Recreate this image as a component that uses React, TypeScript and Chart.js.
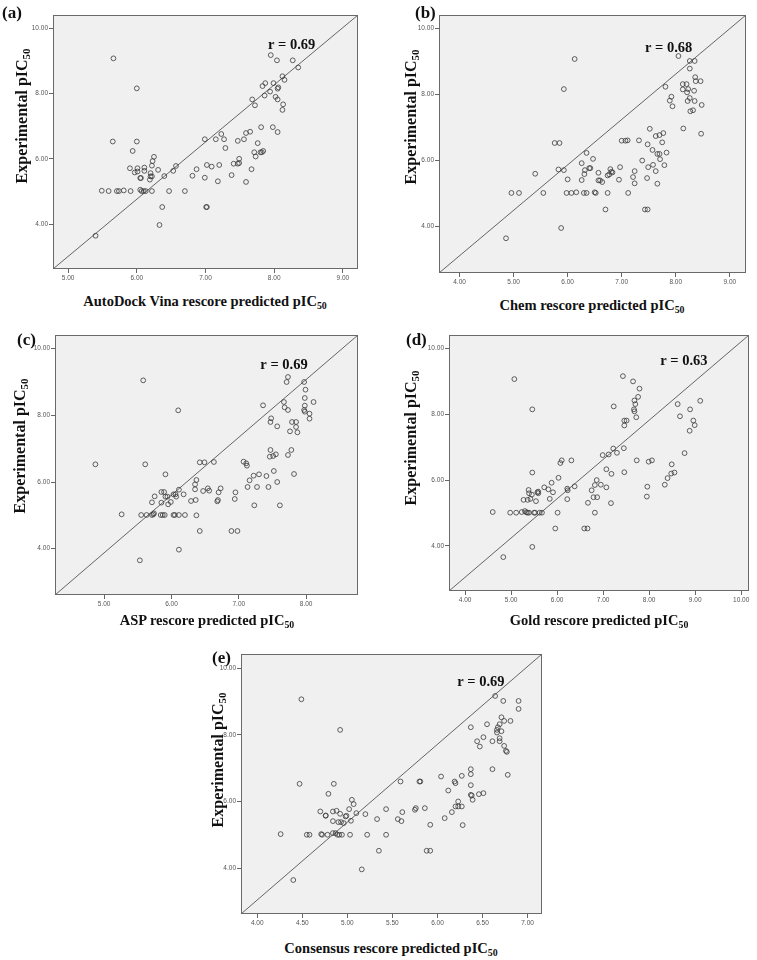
import React, { useEffect, useRef } from "react";
import { Chart, registerables } from "chart.js";
Chart.register(...registerables);

// (a) AutoDock Vina
const vinaPredicted = [
  5.66, 6.0, 5.65, 6.0, 5.94, 5.9, 6.01, 5.97, 6.01, 6.05,
  6.06, 6.11, 6.11, 6.22, 6.23, 6.25, 6.2, 6.2, 6.19, 6.22,
  6.31, 6.4, 6.53, 6.57, 5.49, 5.59, 5.71, 5.74, 5.81, 5.91,
  6.05, 6.07, 6.1, 6.13, 6.22, 6.47, 6.7, 5.4, 6.33, 6.37,
  7.01, 7.02, 6.81, 6.87, 6.99, 7.02, 7.09, 7.18, 7.2, 6.99,
  7.15, 7.23, 7.27, 7.29, 7.38, 7.41, 7.47, 7.49, 7.49, 7.47,
  7.56, 7.59, 7.65, 7.59, 7.67, 7.71, 7.73, 7.76, 7.8, 7.82,
  7.84, 7.81, 7.98, 8.05, 7.68, 7.72, 7.83, 7.87, 7.86, 7.94,
  7.99, 8.02, 8.05, 8.05, 8.06, 8.12, 8.13, 8.12, 8.15, 7.95,
  8.04, 8.27, 8.35,
];
const vinaExperimental = [
  9.08, 8.16, 6.53, 6.53, 6.24, 5.71, 5.71, 5.58, 5.61, 5.41,
  5.41, 5.73, 5.63, 5.79, 5.93, 6.06, 5.56, 5.46, 5.36, 5.46,
  5.66, 5.47, 5.63, 5.78, 5.02, 5.01, 5.01, 5.01, 5.03, 5.01,
  5.05, 5.01, 5.01, 5.01, 5.01, 5.01, 5.01, 3.64, 3.97, 4.52,
  4.52, 4.52, 5.48, 5.68, 5.42, 5.81, 5.76, 5.31, 5.81, 6.6,
  6.6, 6.76, 6.6, 6.33, 5.5, 5.85, 5.85, 6.0, 5.87, 6.55,
  6.6, 6.79, 6.83, 5.29, 5.68, 6.2, 6.07, 6.48, 6.2, 6.2,
  6.24, 6.97, 6.97, 6.82, 7.82, 7.64, 8.23, 8.32, 7.94, 8.06,
  8.32, 7.9, 7.82, 8.15, 8.19, 7.5, 7.67, 8.53, 8.42, 9.18,
  9.02, 9.02, 8.8,
];

// (b) Chem
const chemPredicted = [
  6.13, 5.93, 5.76, 5.85, 6.35, 6.47, 6.26, 5.83, 5.93, 5.4,
  6.0, 6.26, 6.31, 6.32, 6.4, 6.42, 6.57, 6.57, 6.6, 6.64,
  6.74, 6.77, 6.79, 6.81, 6.83, 6.95, 6.97, 4.96, 5.1, 5.55,
  5.98, 6.07, 6.16, 6.3, 6.35, 6.5, 6.52, 6.74, 7.12, 4.86,
  5.88, 6.7, 7.43, 7.48, 7.0, 7.07, 7.11, 7.32, 7.52, 7.63,
  7.7, 7.77, 7.48, 7.57, 7.75, 7.66, 7.7, 7.71, 7.83, 7.38,
  7.58, 7.79, 7.49, 7.63, 7.24, 7.21, 7.47, 7.24, 7.66, 7.81,
  7.92, 7.89, 7.94, 8.05, 8.26, 8.35, 8.26, 8.13, 8.2, 8.13,
  8.23, 8.21, 8.36, 8.37, 8.46, 8.34, 8.26, 8.22, 8.35, 8.27,
  8.32, 8.48, 8.14, 8.47,
];
const chemExperimental = [
  9.07, 8.16, 6.53, 6.53, 6.23, 6.05, 5.92, 5.73, 5.71, 5.6,
  5.43, 5.41, 5.59, 5.71, 5.77, 5.77, 5.63, 5.4, 5.4, 5.35,
  5.55, 5.58, 5.74, 5.66, 5.64, 5.42, 5.8, 5.02, 5.02, 5.02,
  5.02, 5.02, 5.04, 5.02, 5.02, 5.04, 5.02, 5.02, 5.02, 3.65,
  3.96, 4.52, 4.52, 4.52, 6.6, 6.6, 6.61, 6.61, 6.96, 6.74,
  6.77, 6.83, 6.49, 6.32, 6.55, 6.2, 6.2, 6.04, 6.24, 6.0,
  5.87, 5.86, 5.8, 5.68, 5.68, 5.5, 5.47, 5.31, 5.3, 8.23,
  7.93, 7.81, 7.64, 9.16, 9.01, 9.01, 8.78, 8.31, 8.31, 8.15,
  8.16, 8.06, 8.52, 8.4, 8.4, 8.11, 7.89, 7.8, 7.8, 7.49,
  7.52, 7.68, 6.97, 6.81,
];

// (c) ASP
const aspPredicted = [
  5.58, 6.1, 4.87, 5.61, 5.91, 6.42, 6.49, 6.63, 6.37, 6.35,
  6.35, 6.36, 6.29, 6.11, 6.18, 6.06, 6.07, 6.03, 5.85, 5.89,
  5.75, 5.71, 5.85, 5.91, 5.94, 5.95, 5.99, 6.47, 6.54, 6.56,
  6.7, 6.73, 6.69, 6.68, 5.26, 5.55, 5.63, 5.71, 5.73, 5.74,
  5.84, 5.87, 5.9, 6.03, 6.05, 6.11, 6.2, 6.37, 5.53, 6.11,
  6.42, 6.89, 6.98, 6.95, 6.94, 7.07, 7.11, 7.12, 7.16, 7.13,
  7.27, 7.44, 7.57, 7.22, 7.3, 7.41, 7.52, 7.23, 7.61, 7.47,
  7.46, 7.51, 7.55, 7.73, 7.78, 7.82, 7.36, 7.48, 7.47, 7.57,
  7.67, 7.68, 7.73, 7.71, 7.73, 7.76, 7.79, 7.85, 7.85, 7.87,
  7.97, 7.99, 7.98, 7.98, 7.97, 7.98, 8.05, 8.05, 8.11,
];
const aspExperimental = [
  9.05, 8.15, 6.53, 6.53, 6.23, 6.59, 6.59, 6.6, 6.06, 5.93,
  5.78, 5.46, 5.43, 5.77, 5.63, 5.63, 5.56, 5.63, 5.7, 5.7,
  5.57, 5.39, 5.38, 5.56, 5.56, 5.33, 5.4, 5.73, 5.81, 5.74,
  5.69, 5.81, 5.46, 5.42, 5.03, 5.01, 5.01, 5.01, 5.03, 5.06,
  5.01, 5.01, 5.01, 5.01, 5.01, 5.01, 5.01, 5.0, 3.65, 3.97,
  4.53, 4.53, 4.53, 5.69, 5.49, 6.61, 6.56, 6.49, 6.05, 5.85,
  5.85, 5.85, 6.0, 6.19, 6.23, 6.18, 6.33, 5.3, 5.3, 6.96,
  6.76, 6.78, 6.83, 6.81, 6.96, 6.24, 8.3, 7.91, 7.8, 7.67,
  8.4, 8.24, 8.16, 9.0, 9.15, 7.52, 7.8, 7.8, 7.65, 7.49,
  9.0, 8.77, 8.52, 8.29, 8.16, 8.11, 8.05, 7.9, 8.4,
];

// (d) Gold
const goldPredicted = [
  5.07, 5.46, 5.46, 4.6, 4.98, 5.11, 5.23, 5.3, 5.33, 5.36,
  5.39, 5.5, 5.52, 5.62, 5.67, 6.01, 6.82, 5.27, 5.36, 5.42,
  5.38, 5.39, 5.45, 5.54, 5.57, 5.59, 5.59, 5.72, 5.81, 5.88,
  5.91, 5.84, 6.03, 6.07, 6.1, 6.31, 6.22, 6.23, 6.22, 6.38,
  5.96, 6.59, 6.66, 5.46, 4.83, 6.67, 6.75, 6.79, 6.87, 6.82,
  6.86, 6.95, 7.07, 7.07, 7.17, 7.18, 6.99, 7.12, 7.22, 7.3,
  7.23, 7.45, 7.46, 7.73, 7.43, 7.46, 7.51, 7.46, 7.65, 7.79,
  7.76, 7.68, 7.7, 7.67, 7.68, 7.72, 7.99, 8.06, 7.96, 7.95,
  8.34, 8.4, 8.48, 8.55, 8.49, 8.77, 8.62, 8.67, 8.89, 8.88,
  8.96, 8.99, 9.11,
];
const goldExperimental = [
  9.07, 8.15, 6.23, 5.03, 5.01, 5.01, 5.03, 5.06, 5.02, 5.01,
  5.01, 5.01, 5.01, 5.01, 5.01, 5.01, 5.01, 5.4, 5.4, 5.43,
  5.7, 5.6, 5.56, 5.36, 5.63, 5.65, 5.6, 5.78, 5.72, 5.92,
  5.63, 5.43, 6.07, 6.52, 6.6, 6.6, 5.74, 5.69, 5.42, 5.81,
  4.53, 4.53, 4.53, 3.97, 3.66, 5.31, 5.69, 5.48, 5.48, 5.85,
  6.0, 5.86, 6.33, 5.78, 5.3, 6.19, 6.76, 6.78, 6.96, 6.83,
  8.24, 6.97, 6.24, 6.6, 9.16, 7.81, 7.81, 7.66, 9.0, 8.78,
  8.53, 8.42, 8.31, 8.15, 8.09, 7.91, 6.56, 6.6, 5.8, 5.5,
  5.86, 6.06, 6.2, 6.23, 6.48, 6.82, 8.31, 7.94, 8.15, 7.5,
  7.81, 7.67, 8.41,
];

// (e) Consensus
const consensusPredicted = [
  4.49, 4.92, 4.47, 4.85, 4.79, 4.7, 4.76, 4.76, 4.84, 4.88,
  4.92, 4.84, 4.9, 4.93, 4.96, 4.98, 4.99, 5.02, 5.05, 5.07,
  5.04, 5.1, 5.2, 5.33, 5.43, 4.26, 4.55, 4.58, 4.71, 4.72,
  4.78, 4.84, 4.87, 4.89, 4.91, 4.94, 5.03, 5.22, 5.43, 4.4,
  5.16, 5.35, 5.88, 5.92, 5.56, 5.6, 5.61, 5.59, 5.8, 5.81,
  5.75, 5.76, 5.86, 5.92, 6.04, 6.08, 6.12, 6.16, 6.19, 6.2,
  6.2, 6.23, 6.23, 6.27, 6.27, 6.28, 6.37, 6.37, 6.37, 6.37,
  6.38, 6.39, 6.46, 6.51, 6.37, 6.44, 6.47, 6.51, 6.55, 6.61,
  6.61, 6.64, 6.66, 6.66, 6.69, 6.67, 6.69, 6.69, 6.71, 6.71,
  6.73, 6.74, 6.74, 6.76, 6.77, 6.78, 6.81, 6.9, 6.9,
];
const consensusExperimental = [
  9.07, 8.15, 6.53, 6.53, 6.23, 5.7, 5.58, 5.57, 5.7, 5.72,
  5.63, 5.41, 5.38, 5.38, 5.35, 5.55, 5.57, 5.77, 6.05, 5.92,
  5.42, 5.65, 5.62, 5.47, 5.77, 5.02, 5.0, 5.0, 5.02, 5.0,
  5.0, 5.05, 5.05, 5.0, 5.0, 5.0, 5.0, 5.0, 5.0, 3.64,
  3.96, 4.52, 4.52, 4.52, 5.47, 5.41, 5.68, 6.6, 6.6, 6.6,
  5.75, 5.8, 5.8, 5.3, 6.75, 5.5, 6.33, 5.68, 6.6, 6.55,
  5.85, 6.0, 5.85, 5.85, 6.77, 5.29, 6.49, 6.82, 6.97, 6.2,
  6.18, 6.05, 6.22, 6.25, 8.23, 7.81, 7.65, 7.93, 8.32, 7.81,
  6.97, 9.17, 8.15, 8.07, 8.32, 8.23, 7.81, 7.9, 8.53, 8.11,
  9.02, 8.42, 7.67, 7.52, 7.49, 6.8, 8.42, 9.02, 8.78,
];

// tick values
const experimentalTicks = [4, 6, 8, 10];
const vinaTicks = [5, 6, 7, 8, 9];
const chemTicks = [4, 5, 6, 7, 8, 9];
const aspTicks = [5, 6, 7, 8];
const goldTicks = [4, 5, 6, 7, 8, 9, 10];
const consensusTicks = [4, 4.5, 5, 5.5, 6, 6.5, 7];

const panelLetters = ["(a)", "(b)", "(c)", "(d)", "(e)"];
const xTitles = [
  "AutoDock Vina rescore predicted pIC",
  "Chem rescore predicted pIC",
  "ASP rescore predicted pIC",
  "Gold rescore predicted pIC",
  "Consensus rescore predicted pIC",
];
const yTitle = "Experimental pIC";
const correlations = ["0.69", "0.68", "0.69", "0.63", "0.69"];

const SERIF = '"Liberation Serif", "Times New Roman", serif';
const SANS = '"Liberation Sans", Arial, sans-serif';

type Layout = {
  plot: [number, number, number, number]; // l, t, r, b
  xRange: [number, number];
  yRange: [number, number];
  rAt: [number, number];
  xTitleAt: [number, number];
  yTitleAt: [number, number];
  letterAt: [number, number];
};

const layouts: Layout[] = [
  { plot: [53, 15, 358, 269], xRange: [4.78, 9.22], yRange: [2.62, 10.41], rAt: [7.91, 9.49], xTitleAt: [205, 301], yTitleAt: [22, 116], letterAt: [2, 4] },
  { plot: [439, 15, 746, 273], xRange: [3.62, 9.3], yRange: [2.6, 10.4], rAt: [7.43, 9.4], xTitleAt: [592, 305], yTitleAt: [411, 117], letterAt: [415, 4] },
  { plot: [55, 335, 358, 595], xRange: [4.27, 8.77], yRange: [2.61, 10.41], rAt: [7.32, 9.51], xTitleAt: [207, 620], yTitleAt: [20, 446], letterAt: [17, 331] },
  { plot: [449, 335, 749, 591], xRange: [3.65, 10.17], yRange: [2.63, 10.41], rAt: [8.24, 9.62], xTitleAt: [599, 620], yTitleAt: [411, 438], letterAt: [406, 331] },
  { plot: [241, 654, 542, 914], xRange: [3.82, 7.16], yRange: [2.62, 10.43], rAt: [6.22, 9.57], xTitleAt: [391, 948], yTitleAt: [218, 760], letterAt: [212, 649] },
];

const panelData: { px: number[]; py: number[]; xTicks: number[] }[] = [
  { px: vinaPredicted, py: vinaExperimental, xTicks: vinaTicks },
  { px: chemPredicted, py: chemExperimental, xTicks: chemTicks },
  { px: aspPredicted, py: aspExperimental, xTicks: aspTicks },
  { px: goldPredicted, py: goldExperimental, xTicks: goldTicks },
  { px: consensusPredicted, py: consensusExperimental, xTicks: consensusTicks },
];

const PAD_L = 50;
const PAD_R = 6;
const PAD_T = 6;
const PAD_B = 22;

function ScatterPanel({ index }: { index: number }) {
  const ref = useRef<HTMLCanvasElement | null>(null);
  const lay = layouts[index];
  const d = panelData[index];
  const [l, t, r, b] = lay.plot;
  const w = r - l + PAD_L + PAD_R;
  const h = b - t + PAD_T + PAD_B;

  useEffect(() => {
    if (!ref.current) return;
    const n = Math.min(d.px.length, d.py.length);
    const points = [] as { x: number; y: number }[];
    for (let i = 0; i < n; i++) points.push({ x: d.px[i], y: d.py[i] });

    const framePlugin = {
      id: "frame" + index,
      beforeDraw(chart: any) {
        const { ctx, chartArea: a } = chart;
        ctx.save();
        ctx.fillStyle = "#f0f0f0";
        ctx.fillRect(a.left, a.top, a.right - a.left, a.bottom - a.top);
        ctx.restore();
      },
      afterDraw(chart: any) {
        const { ctx, chartArea: a, scales } = chart;
        ctx.save();
        ctx.strokeStyle = "#6a6a6a";
        ctx.lineWidth = 1;
        ctx.strokeRect(a.left + 0.5, a.top + 0.5, a.right - a.left - 1, a.bottom - a.top - 1);
        ctx.fillStyle = "#111";
        ctx.font = `bold 14.5px ${SERIF}`;
        ctx.textAlign = "left";
        ctx.textBaseline = "middle";
        ctx.fillText(
          "r = " + correlations[index],
          scales.x.getPixelForValue(lay.rAt[0]),
          scales.y.getPixelForValue(lay.rAt[1])
        );
        ctx.restore();
      },
    };

    const tickFont = { family: SANS, size: 6.5 };
    const gridCfg = {
      display: true,
      drawOnChartArea: false,
      drawTicks: true,
      tickLength: 4,
      color: "#666",
      lineWidth: 1,
    };

    const chart = new Chart(ref.current, {
      type: "scatter",
      data: {
        datasets: [
          {
            type: "line",
            data: [
              { x: lay.xRange[0], y: lay.yRange[0] },
              { x: lay.xRange[1], y: lay.yRange[1] },
            ],
            borderColor: "#555",
            borderWidth: 0.9,
            pointRadius: 0,
            fill: false,
            order: 2,
          } as any,
          {
            data: points,
            pointRadius: 2.4,
            pointHoverRadius: 2.4,
            pointBorderWidth: 0.8,
            borderColor: "#3a3a3a",
            backgroundColor: "rgba(0,0,0,0)",
            pointStyle: "circle",
            order: 1,
          },
        ],
      },
      options: {
        animation: false,
        responsive: false,
        devicePixelRatio: 1,
        layout: { padding: { left: 0, top: PAD_T, right: PAD_R, bottom: 0 } },
        plugins: { legend: { display: false }, tooltip: { enabled: false } },
        scales: {
          x: {
            type: "linear",
            min: lay.xRange[0],
            max: lay.xRange[1],
            afterBuildTicks: (s: any) => {
              s.ticks = d.xTicks.map((v) => ({ value: v }));
            },
            afterFit: (s: any) => {
              s.height = PAD_B;
            },
            ticks: {
              font: tickFont,
              color: "#555",
              padding: 1,
              autoSkip: false,
              maxRotation: 0,
              callback: (v: any) => Number(v).toFixed(2),
            },
            grid: gridCfg,
            border: { display: false },
          },
          y: {
            type: "linear",
            min: lay.yRange[0],
            max: lay.yRange[1],
            afterBuildTicks: (s: any) => {
              s.ticks = experimentalTicks.map((v) => ({ value: v }));
            },
            afterFit: (s: any) => {
              s.width = PAD_L;
            },
            ticks: {
              font: tickFont,
              color: "#555",
              padding: 1,
              autoSkip: false,
              callback: (v: any) => Number(v).toFixed(2),
            },
            grid: gridCfg,
            border: { display: false },
          },
        },
      } as any,
      plugins: [framePlugin],
    });
    return () => chart.destroy();
  }, [index]);

  const titleStyle: React.CSSProperties = {
    position: "absolute",
    fontFamily: SERIF,
    fontWeight: "bold",
    whiteSpace: "nowrap",
    lineHeight: 1,
    color: "#111",
  };
  const sub = (
    <span style={{ fontSize: "0.68em", position: "relative", top: "0.3em" }}>50</span>
  );

  return (
    <>
      <canvas
        ref={ref}
        width={w}
        height={h}
        style={{ position: "absolute", left: l - PAD_L, top: t - PAD_T, width: w, height: h }}
      />
      <div
        style={{
          ...titleStyle,
          fontSize: 14.5,
          left: lay.xTitleAt[0],
          top: lay.xTitleAt[1],
          transform: "translate(-50%, -50%)",
        }}
      >
        {xTitles[index]}
        {sub}
      </div>
      <div
        style={{
          ...titleStyle,
          fontSize: 16,
          left: lay.yTitleAt[0],
          top: lay.yTitleAt[1],
          transform: "translate(-50%, -50%) rotate(-90deg)",
        }}
      >
        {yTitle}
        {sub}
      </div>
      <div
        style={{
          ...titleStyle,
          fontSize: 17,
          left: lay.letterAt[0],
          top: lay.letterAt[1],
        }}
      >
        {panelLetters[index]}
      </div>
    </>
  );
}

export default function App() {
  return (
    <div
      style={{
        position: "absolute",
        left: 0,
        top: 0,
        width: 757,
        height: 960,
        background: "#fff",
        overflow: "hidden",
      }}
    >
      {layouts.map((_, i) => (
        <ScatterPanel key={i} index={i} />
      ))}
    </div>
  );
}
